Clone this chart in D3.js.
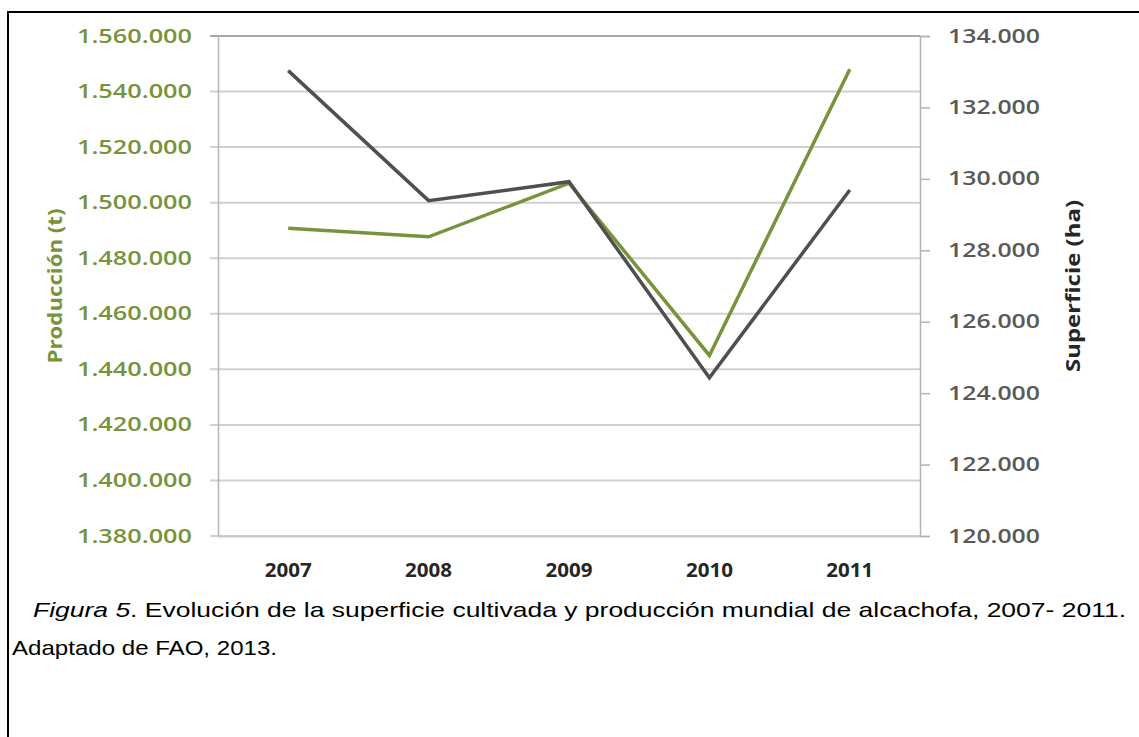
<!DOCTYPE html>
<html>
<head>
<meta charset="utf-8">
<script src="https://cdn.jsdelivr.net/npm/d3@7"></script>
<style>
body { margin: 0; background: #fff; }
svg { display: block; }
</style>
</head>
<body>
<script>
// data (FAO 2013, alcachofa)
var years = ["2007", "2008", "2009", "2010", "2011"];
var produccion = [1490800, 1487700, 1507000, 1445000, 1548000];   // t
var superficie = [133030, 129390, 129920, 124430, 129690];        // ha
var prodTicks = [1380000, 1400000, 1420000, 1440000, 1460000, 1480000, 1500000, 1520000, 1540000, 1560000];
var supTicks = [120000, 122000, 124000, 126000, 128000, 130000, 132000, 134000];

var width = 1139, height = 737;
var plot = {left: 218, right: 920, top: 36, bottom: 536};

var green = "#77933c", dark = "#4f4f4f";

// spanish number format 1.560.000
var es = d3.formatLocale({decimal: ",", thousands: ".", grouping: [3], currency: ["", ""]});
var fmt = es.format(",d");

var svg = d3.select("body").append("svg")
  .attr("width", width)
  .attr("height", height);

// frame around the figure (only left and top visible)
svg.append("rect")
  .attr("x", 8).attr("y", 12)
  .attr("width", width + 20).attr("height", height + 20)
  .attr("fill", "none")
  .attr("stroke", "#000")
  .attr("stroke-width", 2);

var x = d3.scaleBand()
  .domain(years)
  .range([plot.left, plot.right])
  .padding(0);

var yL = d3.scaleLinear()
  .domain([1380000, 1560000])
  .range([plot.bottom, plot.top]);

var yR = d3.scaleLinear()
  .domain([120000, 134000])
  .range([plot.bottom, plot.top]);

// gridlines
svg.append("g")
  .selectAll("line")
  .data(prodTicks)
  .enter().append("line")
  .attr("x1", plot.left - 8)
  .attr("x2", plot.right)
  .attr("y1", function(d) { return yL(d); })
  .attr("y2", function(d) { return yL(d); })
  .attr("stroke", function(d, i) { return i === prodTicks.length - 1 ? "#a3aab4" : "#d0d0d0"; })
  .attr("stroke-width", 2);

// left axis
var gL = svg.append("g")
  .attr("transform", "translate(" + plot.left + ",0)")
  .call(d3.axisLeft(yL).tickValues(prodTicks).tickFormat(fmt).tickSize(0).tickPadding(26));
gL.select(".domain").attr("stroke", "#b4b4b4").attr("stroke-width", 1.5);
gL.selectAll("text")
  .attr("fill", green)
  .style("font-family", "'Open Sans', sans-serif")
  .style("font-weight", 600)
  .style("font-size", "19px")
  .attr("textLength", 115)
  .attr("lengthAdjust", "spacingAndGlyphs");

// right axis
var gR = svg.append("g")
  .attr("transform", "translate(" + plot.right + ",0)")
  .call(d3.axisRight(yR).tickValues(supTicks).tickFormat(fmt).tickSize(10).tickPadding(18));
gR.select(".domain").attr("stroke", "#b4b4b4").attr("stroke-width", 1.5);
gR.selectAll(".tick line").attr("stroke", "#b4b4b4").attr("stroke-width", 1.5);
gR.selectAll("text")
  .attr("fill", "#595959")
  .style("font-family", "'Open Sans', sans-serif")
  .style("font-weight", 600)
  .style("font-size", "19px")
  .attr("textLength", 92)
  .attr("lengthAdjust", "spacingAndGlyphs");

// x axis labels
var gX = svg.append("g")
  .attr("transform", "translate(0," + plot.bottom + ")")
  .call(d3.axisBottom(x).tickSize(0).tickPadding(28));
gX.select(".domain").attr("stroke", "#c8c8c8").attr("stroke-width", 2);
gX.selectAll("text")
  .attr("fill", "#262626")
  .style("font-family", "'Open Sans', sans-serif")
  .style("font-weight", 700)
  .style("font-size", "19px")
  .attr("textLength", 47)
  .attr("lengthAdjust", "spacingAndGlyphs");

// lines
var cx = function(d, i) { return x(years[i]) + x.bandwidth() / 2; };

svg.append("path")
  .datum(produccion)
  .attr("fill", "none")
  .attr("stroke", green)
  .attr("stroke-width", 3.5)
  .attr("d", d3.line().x(cx).y(function(d) { return yL(d); }));

svg.append("path")
  .datum(superficie)
  .attr("fill", "none")
  .attr("stroke", dark)
  .attr("stroke-width", 3.5)
  .attr("d", d3.line().x(cx).y(function(d) { return yR(d); }));

// axis titles
var midY = (plot.top + plot.bottom) / 2;
svg.append("text")
  .attr("transform", "translate(62," + midY + ") rotate(-90)")
  .attr("text-anchor", "middle")
  .attr("fill", green)
  .style("font-family", "'Open Sans', sans-serif")
  .style("font-weight", 700)
  .style("font-size", "19px")
  .attr("textLength", 155)
  .attr("lengthAdjust", "spacingAndGlyphs")
  .text("Producción (t)");

svg.append("text")
  .attr("transform", "translate(1080," + midY + ") rotate(-90)")
  .attr("text-anchor", "middle")
  .attr("fill", "#262626")
  .style("font-family", "'Open Sans', sans-serif")
  .style("font-weight", 700)
  .style("font-size", "19px")
  .attr("textLength", 172)
  .attr("lengthAdjust", "spacingAndGlyphs")
  .text("Superficie (ha)");

// caption
var cap = svg.append("text")
  .attr("x", 33).attr("y", 617)
  .style("font-family", "'Liberation Sans', Arial, sans-serif")
  .style("font-size", "21px")
  .attr("fill", "#000")
  .attr("textLength", 1093)
  .attr("lengthAdjust", "spacingAndGlyphs");
cap.append("tspan").style("font-style", "italic").text("Figura 5");
cap.append("tspan").text(". Evolución de la superficie cultivada y producción mundial de alcachofa, 2007- 2011.");

svg.append("text")
  .attr("x", 12).attr("y", 655)
  .style("font-family", "'Liberation Sans', Arial, sans-serif")
  .style("font-size", "21px")
  .attr("fill", "#000")
  .attr("textLength", 265)
  .attr("lengthAdjust", "spacingAndGlyphs")
  .text("Adaptado de FAO, 2013.");
</script>
</body>
</html>
